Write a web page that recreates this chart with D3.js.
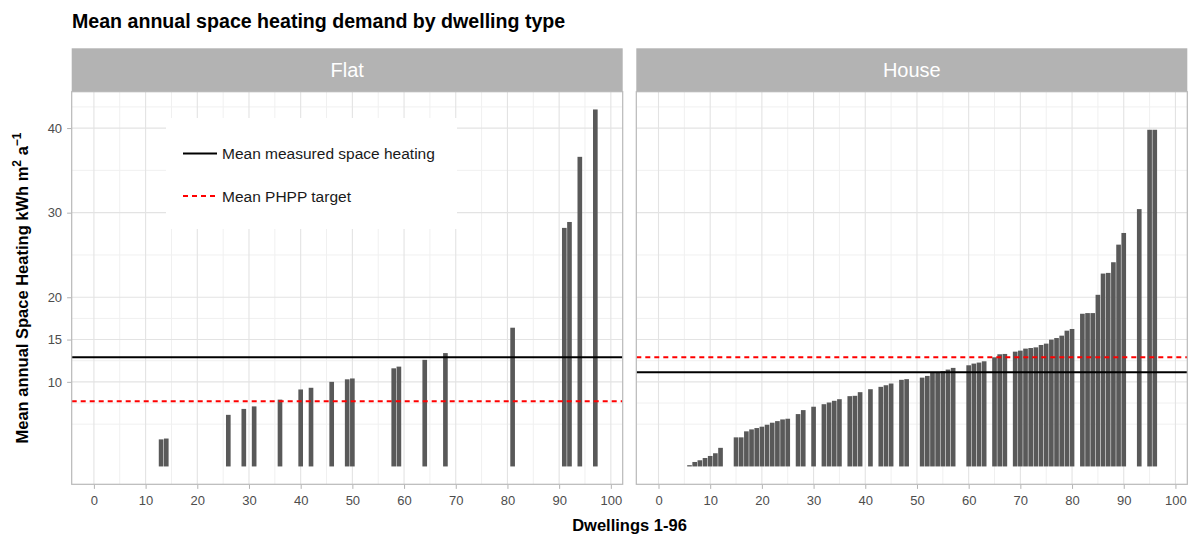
<!DOCTYPE html>
<html>
<head>
<meta charset="utf-8">
<script src="https://cdnjs.cloudflare.com/ajax/libs/d3/7.8.5/d3.min.js"></script>
<style>
  body { margin: 0; background: #fff; }
  svg { font-family: "Liberation Sans", Arial, sans-serif; }
</style>
</head>
<body>
<svg id="chart" width="1192" height="538"></svg>
<script>
// data
var facets = ["Flat", "House"];

var flatIds = [13, 14, 26, 29, 31, 36, 40, 42, 46, 49, 50, 58, 59, 64, 68, 81, 91, 92, 94, 97];
var flatValues = [3.2, 3.3, 6.1, 6.8, 7.1, 7.9, 9.1, 9.3, 10.0, 10.3, 10.4, 11.6, 11.8, 12.6, 13.4, 16.4, 28.2, 28.9, 36.6, 42.2];

var houseIds = [6, 7, 8, 9, 10, 11, 12, 15, 16, 17, 18, 19, 20, 21, 22, 23, 24, 25, 27, 28, 30,
  32, 33, 34, 35, 37, 38, 39, 41, 43, 44, 45, 47, 48, 51, 52, 53, 54, 55, 56, 57, 60, 61, 62, 63,
  65, 66, 67, 69, 70, 71, 72, 73, 74, 75, 76, 77, 78, 79, 80, 82, 83, 84, 85, 86, 87, 88, 89, 90,
  93, 95, 96];
var houseValues = [0.15, 0.53, 0.73, 1.0, 1.24, 1.56, 2.2, 3.44, 3.44, 4.15, 4.38, 4.54, 4.7, 4.93, 5.17, 5.36, 5.56, 5.64, 6.19, 6.66, 7.06,
  7.36, 7.56, 7.76, 7.95, 8.31, 8.35, 8.78, 9.13, 9.41, 9.6, 9.8, 10.24, 10.32, 10.5, 10.7, 11.14, 11.16, 11.26, 11.45, 11.65, 11.96, 12.16, 12.28, 12.43,
  12.9, 13.26, 13.3, 13.57, 13.69, 13.93, 14.0, 14.08, 14.36, 14.52, 14.99, 15.18, 15.46, 16.05, 16.25, 18.05, 18.13, 18.13, 20.29, 22.8, 22.88, 24.14, 26.22, 27.6,
  30.42, 39.8, 39.8];

// mean lines per facet: [Flat, House]
var meanMeasured = [12.9, 11.15];
var meanPhpp = [7.7, 12.9];

var yTicks = [10, 15, 20, 30, 40];
var yMinor = [5, 7.5, 12.5, 17.5, 25, 35, 42.5];
var xTicks = [0, 10, 20, 30, 40, 50, 60, 70, 80, 90, 100];
var xMinor = [5, 15, 25, 35, 45, 55, 65, 75, 85, 95];

var legendLabels = ["Mean measured space heating", "Mean PHPP target"];

var svg = d3.select("#chart");

var panelTop = 91.7, panelBottom = 484.3, stripTop = 48.3;
var panelLefts = [71.7, 636.3], panelW = 551;

var y = d3.scaleLinear().domain([-2.11, 44.3]).range([panelBottom, panelTop]);

var panelData = [
  flatIds.map(function (d, i) { return { id: d, v: flatValues[i] }; }),
  houseIds.map(function (d, i) { return { id: d, v: houseValues[i] }; })
];

// title
svg.append("text")
  .attr("x", 72).attr("y", 28)
  .attr("font-size", 19.6).attr("font-weight", "bold").attr("fill", "#000")
  .text("Mean annual space heating demand by dwelling type");

facets.forEach(function (name, p) {
  var left = panelLefts[p];
  var x = d3.scaleLinear().domain([-4.295, 102.295]).range([left, left + panelW]);
  var g = svg.append("g");

  // strip
  g.append("rect")
    .attr("x", left).attr("y", stripTop)
    .attr("width", panelW).attr("height", panelTop - stripTop)
    .attr("fill", "#b3b3b3");
  g.append("text")
    .attr("x", left + panelW / 2).attr("y", (stripTop + panelTop) / 2)
    .attr("dy", "0.36em").attr("text-anchor", "middle")
    .attr("font-size", 20).attr("fill", "#fff")
    .text(name);

  // grid
  g.selectAll(".ymin").data(yMinor).enter().append("line")
    .attr("x1", left).attr("x2", left + panelW)
    .attr("y1", function (d) { return y(d); }).attr("y2", function (d) { return y(d); })
    .attr("stroke", "#f0f0f0").attr("stroke-width", 1);
  g.selectAll(".xmin").data(xMinor).enter().append("line")
    .attr("y1", panelTop).attr("y2", panelBottom)
    .attr("x1", function (d) { return x(d); }).attr("x2", function (d) { return x(d); })
    .attr("stroke", "#f0f0f0").attr("stroke-width", 1);
  g.selectAll(".ymaj").data(yTicks).enter().append("line")
    .attr("x1", left).attr("x2", left + panelW)
    .attr("y1", function (d) { return y(d); }).attr("y2", function (d) { return y(d); })
    .attr("stroke", "#e3e3e3").attr("stroke-width", 1.1);
  g.selectAll(".xmaj").data(xTicks).enter().append("line")
    .attr("y1", panelTop).attr("y2", panelBottom)
    .attr("x1", function (d) { return x(d); }).attr("x2", function (d) { return x(d); })
    .attr("stroke", "#e3e3e3").attr("stroke-width", 1.1);

  // legend box (flat panel only)
  if (p == 0) {
    var lg = g.append("g");
    lg.append("rect")
      .attr("x", 166).attr("y", 118).attr("width", 291).attr("height", 111)
      .attr("fill", "#fff");
    lg.append("line")
      .attr("x1", 183).attr("x2", 217).attr("y1", 153.5).attr("y2", 153.5)
      .attr("stroke", "#000").attr("stroke-width", 2);
    lg.append("line")
      .attr("x1", 183).attr("x2", 217).attr("y1", 196).attr("y2", 196)
      .attr("stroke", "#ff0000").attr("stroke-width", 2).attr("stroke-dasharray", "5,4");
    lg.selectAll("text").data(legendLabels).enter().append("text")
      .attr("x", 222).attr("y", function (d, i) { return i == 0 ? 153.5 : 196; })
      .attr("dy", "0.36em").attr("font-size", 15.5).attr("fill", "#1a1a1a")
      .text(function (d) { return d; });
  }

  // bars
  g.selectAll(".bar").data(panelData[p]).enter().append("rect")
    .attr("class", "bar")
    .attr("x", function (d) { return x(d.id - 0.45); })
    .attr("width", x(0.9) - x(0))
    .attr("y", function (d) { return y(d.v); })
    .attr("height", function (d) { return y(0) - y(d.v); })
    .attr("fill", "#595959");

  // mean lines
  g.append("line")
    .attr("x1", left).attr("x2", left + panelW)
    .attr("y1", y(meanMeasured[p])).attr("y2", y(meanMeasured[p]))
    .attr("stroke", "#000").attr("stroke-width", 2);
  g.append("line")
    .attr("x1", left).attr("x2", left + panelW)
    .attr("y1", y(meanPhpp[p])).attr("y2", y(meanPhpp[p]))
    .attr("stroke", "#ff0000").attr("stroke-width", 2).attr("stroke-dasharray", "5,4");

  // border
  g.append("rect")
    .attr("x", left).attr("y", panelTop).attr("width", panelW).attr("height", panelBottom - panelTop)
    .attr("fill", "none").attr("stroke", "#b8b8b8").attr("stroke-width", 1.2);

  // x axis
  var xa = g.append("g")
    .attr("transform", "translate(0," + (panelBottom + 0.6) + ")")
    .call(d3.axisBottom(x).tickValues(xTicks).tickSize(4).tickPadding(7));
  xa.select(".domain").remove();
  xa.selectAll("line").attr("stroke", "#b3b3b3");
  xa.selectAll("text").attr("fill", "#4d4d4d").attr("font-size", 13).attr("font-family", null);

  if (p == 0) {
    var ya = g.append("g")
      .attr("transform", "translate(" + (left - 0.6) + ",0)")
      .call(d3.axisLeft(y).tickValues(yTicks).tickSize(4).tickPadding(5));
    ya.select(".domain").remove();
    ya.selectAll("line").attr("stroke", "#b3b3b3");
    ya.selectAll("text").attr("fill", "#4d4d4d").attr("font-size", 13).attr("font-family", null);
  }
});

// axis titles
svg.append("text")
  .attr("x", (panelLefts[0] + panelLefts[1] + panelW) / 2).attr("y", 531)
  .attr("text-anchor", "middle").attr("font-size", 16.5).attr("font-weight", "bold")
  .text("Dwellings 1-96");

var yt = svg.append("text")
  .attr("transform", "translate(28," + ((panelTop + panelBottom) / 2) + ")rotate(-90)")
  .attr("text-anchor", "middle").attr("font-size", 16.5).attr("font-weight", "bold");
yt.append("tspan").text("Mean annual Space Heating kWh m");
yt.append("tspan").attr("dy", -7).attr("font-size", 12).text("2");
yt.append("tspan").attr("dy", 7).text(" a");
yt.append("tspan").attr("dy", -7).attr("font-size", 12).text("\u22121");
</script>
</body>
</html>
